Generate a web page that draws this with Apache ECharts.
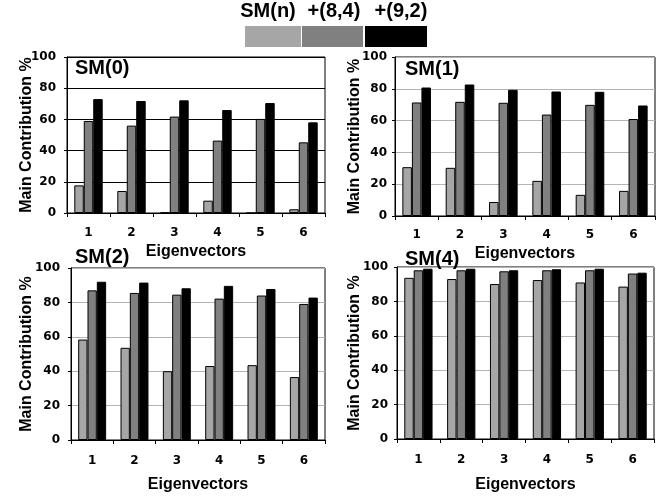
<!DOCTYPE html>
<html>
<head>
<meta charset="utf-8">
<script src="https://cdn.jsdelivr.net/npm/echarts@6/dist/echarts.min.js"></script>
<style>
  html, body { margin: 0; padding: 0; background: #fff; }
  #chart { width: 660px; height: 499px; }
</style>
</head>
<body>
<div id="chart"></div>
<script>
const categories = ['1', '2', '3', '4', '5', '6']
const seriesNames = ['SM(n)', '+(8,4)', '+(9,2)']
const panelTitles = ['SM(0)', 'SM(1)', 'SM(2)', 'SM(4)']

// one array per series per panel: [SM(n), +(8,4), +(9,2)]
const sm0Base = [17.7, 14.1, 0.3, 7.9, 0, 2.4]
const sm0Plus84 = [59, 56, 61.8, 46.4, 60.3, 45.3]
const sm0Plus92 = [73, 71.8, 72.2, 66, 70.5, 58.1]

const sm1Base = [30.7, 30.3, 8.8, 22.1, 13.3, 15.8]
const sm1Plus84 = [71.4, 71.8, 71.2, 63.8, 69.9, 61]
const sm1Plus92 = [80.8, 82.7, 79.4, 78.3, 78.1, 69.5]

const sm2Base = [58.4, 53.6, 40, 43, 43.5, 36.6]
const sm2Plus84 = [87, 85.5, 84.5, 82.2, 84, 79.1]
const sm2Plus92 = [92, 91.5, 88.2, 89.6, 87.8, 82.8]

const sm4Base = [93.7, 93, 90.1, 92.4, 91, 88.6]
const sm4Plus84 = [98.1, 98.1, 97.5, 98.1, 98.1, 96.2]
const sm4Plus92 = [99, 99, 98.1, 98.7, 99, 96.7]

const yTicks = { min: 0, max: 100, interval: 20 }

const panelData = [
  [sm0Base, sm0Plus84, sm0Plus92],
  [sm1Base, sm1Plus84, sm1Plus92],
  [sm2Base, sm2Plus84, sm2Plus92],
  [sm4Base, sm4Plus84, sm4Plus92]
]

const barColors = ['#a6a6a6', '#808080', '#000000']

const grids = [
  { left: 67, top: 57, width: 258, height: 156 },
  { left: 395, top: 57, width: 260, height: 159 },
  { left: 71, top: 268, width: 254, height: 172 },
  { left: 397, top: 267, width: 257, height: 172 }
]
const titlePos = [
  { left: 75, top: 58 },
  { left: 405, top: 59 },
  { left: 75, top: 247 },
  { left: 405, top: 249 }
]
const splitColors = ['#000000', '#b4b4b4', '#b4b4b4', '#b4b4b4']
const xLabelMargin = [14, 13, 15, 15]
const yLabelMargin = [11, 8, 11, 9]
const xNameGap = [31, 30, 37, 38]
const yNameGap = [32, 32, 36, 34]

const boldFont = 'Liberation Sans'
const tickFont = 'DejaVu Sans'

const chart = echarts.init(document.getElementById('chart'))

const option = {
  backgroundColor: '#fff',
  animation: false,
  title: panelTitles.map((t, i) => ({
    text: t,
    left: titlePos[i].left,
    top: titlePos[i].top,
    padding: 0,
    textStyle: { fontFamily: boldFont, fontWeight: 'bold', fontSize: 20, color: '#000' }
  })),
  grid: grids.map(g => ({
    ...g,
    show: true,
    borderColor: '#000',
    borderWidth: 1,
    backgroundColor: 'transparent'
  })),
  xAxis: grids.map((g, i) => ({
    type: 'category',
    gridIndex: i,
    data: categories,
    name: 'Eigenvectors',
    nameLocation: 'middle',
    nameGap: xNameGap[i],
    nameMoveOverlap: false,
    nameTextStyle: { fontFamily: boldFont, fontWeight: 'bold', fontSize: 16, color: '#000' },
    axisLine: { show: true, lineStyle: { color: '#000', width: 1 } },
    axisTick: { show: true, length: 4, lineStyle: { color: '#000' } },
    axisLabel: { margin: xLabelMargin[i], fontFamily: tickFont, fontWeight: 'bold', fontSize: 12, color: '#000' },
    splitLine: { show: false }
  })),
  yAxis: grids.map((g, i) => ({
    type: 'value',
    gridIndex: i,
    min: yTicks.min,
    max: yTicks.max,
    interval: yTicks.interval,
    name: 'Main Contribution %',
    nameLocation: 'middle',
    nameGap: yNameGap[i],
    nameMoveOverlap: false,
    nameTextStyle: { fontFamily: boldFont, fontWeight: 'bold', fontSize: 16, color: '#000' },
    axisLine: { show: true, lineStyle: { color: '#000', width: 1 } },
    axisTick: { show: true, length: 3, lineStyle: { color: '#000' } },
    axisLabel: { margin: yLabelMargin[i], fontFamily: tickFont, fontWeight: 'bold', fontSize: 12, color: '#000' },
    splitLine: { show: true, lineStyle: { color: splitColors[i], width: 1 } }
  })),
  series: panelData.flatMap((sets, i) =>
    sets.map((values, k) => ({
      name: seriesNames[k],
      type: 'bar',
      xAxisIndex: i,
      yAxisIndex: i,
      data: values,
      barGap: '0%',
      barCategoryGap: '34%',
      itemStyle: { color: barColors[k], borderColor: '#000', borderWidth: 1 }
    }))
  ),
  graphic: [
    { type: 'rect', shape: { x: 245, y: 26, width: 56, height: 21 }, style: { fill: barColors[0] } },
    { type: 'rect', shape: { x: 302, y: 26, width: 61, height: 21 }, style: { fill: barColors[1] } },
    { type: 'rect', shape: { x: 365, y: 26, width: 62, height: 21 }, style: { fill: barColors[2] } },
    { type: 'text', x: 268, y: 1, style: { text: seriesNames[0], font: 'bold 20px "Liberation Sans"', fill: '#000', align: 'center', verticalAlign: 'top' } },
    { type: 'text', x: 334, y: 1, style: { text: seriesNames[1], font: 'bold 20px "Liberation Sans"', fill: '#000', align: 'center', verticalAlign: 'top' } },
    { type: 'text', x: 401, y: 1, style: { text: seriesNames[2], font: 'bold 20px "Liberation Sans"', fill: '#000', align: 'center', verticalAlign: 'top' } }
  ]
}

chart.setOption(option)
</script>
</body>
</html>
